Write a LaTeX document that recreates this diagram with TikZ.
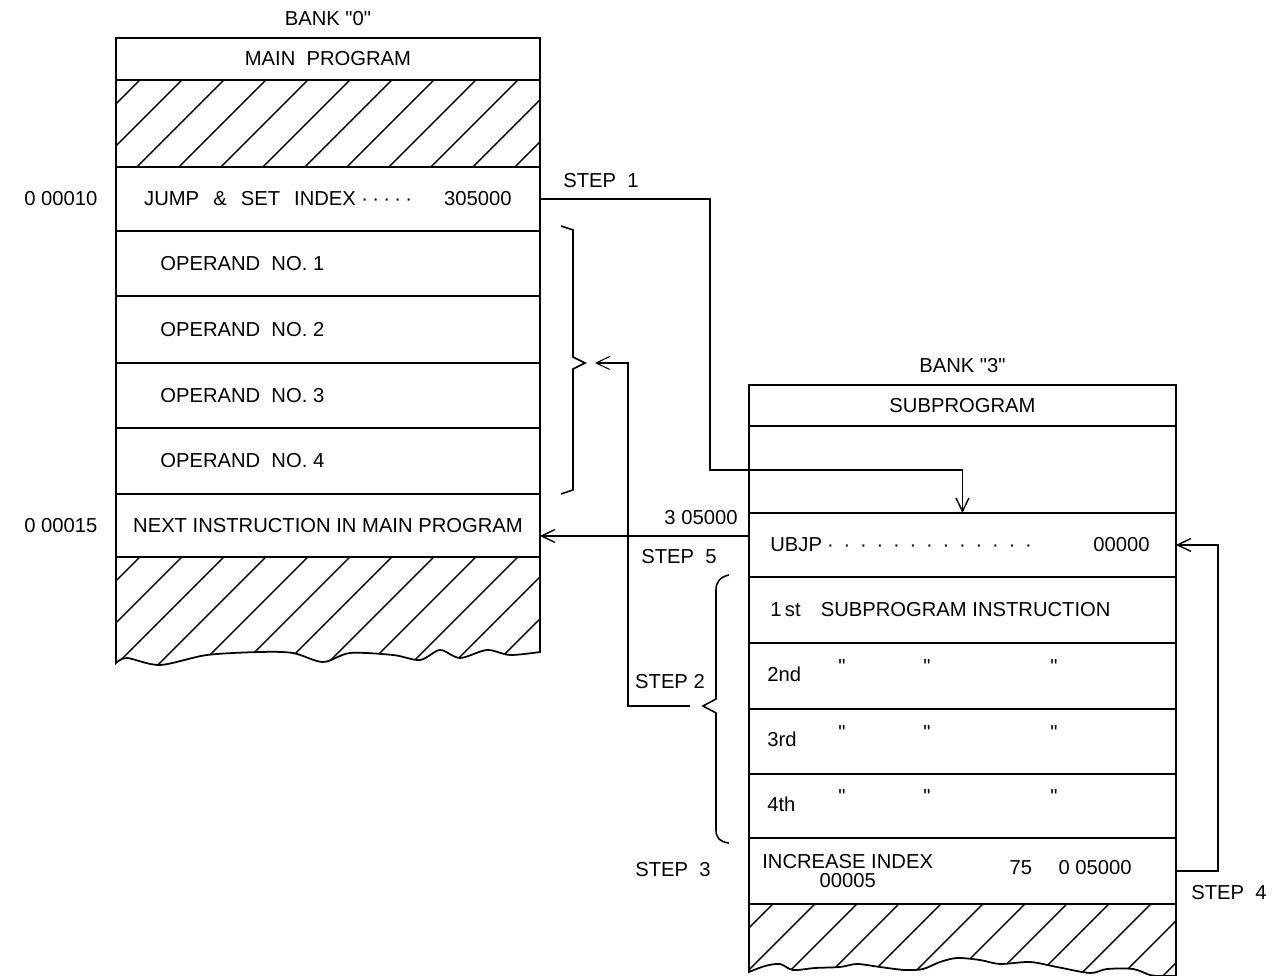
\documentclass[tikz,border=0pt]{standalone}
\usepackage{fontspec}
\setmainfont{Liberation Sans}[Ligatures=TeXOff]
\usetikzlibrary{positioning,arrows.meta}

\newcommand{\dotleader}[2]{\makebox[#1]{\cleaders\hbox to #2{\hss·\hss}\hfill}}

\begin{document}
\begin{tikzpicture}[
  x=0.02cm, y=-0.02cm,
  font=\fontsize{11.5}{13}\selectfont,
  row/.style={draw, line width=1pt, minimum width=8.48cm, inner sep=0pt, outer sep=0pt},
  subrow/.style={row, minimum width=8.54cm},
  txt/.style={inner sep=0pt, anchor=west},
  ditto/.style={inner sep=0pt},
  edge/.style={line width=1pt},
  hatch/.style={line width=0.8pt},
  hatched/.style={path picture={
    \foreach \k in {0,...,13}
      \draw[hatch] ([shift={(24+42*\k,0)}]path picture bounding box.north west) -- ++(-150,150);}},
  link/.style={line width=0.8pt},
  arrow/.style={link, -{Straight Barb[length=2.7mm, width=2.6mm]}},
  brace/.style={line width=0.9pt}
]
\useasboundingbox (0,0) rectangle (1276,976);

% bank 0
\node[row, minimum height=0.84cm, anchor=north west] (main) at (116,38) {MAIN\ \ PROGRAM};
\node[row, hatched, minimum height=1.74cm, below=0pt of main] (top0) {};
\node[row, minimum height=1.28cm, below=0pt of top0] (jump) {JUMP\hspace{8pt}\&\hspace{8pt}SET\hspace{8pt}INDEX\,\dotleader{1.1cm}{0.22cm}\hspace{0.6cm}305000};
\node[row, minimum height=1.30cm, below=0pt of jump] (op1) {};
\node[row, minimum height=1.34cm, below=0pt of op1] (op2) {};
\node[row, minimum height=1.30cm, below=0pt of op2] (op3) {};
\node[row, minimum height=1.32cm, below=0pt of op3] (op4) {};
\node[row, minimum height=1.26cm, below=0pt of op4] (next) {NEXT INSTRUCTION IN MAIN PROGRAM};
\foreach \r/\n in {op1/1,op2/2,op3/3,op4/4}
  \node[txt] (\r t) at ([shift={(44,0)}]\r.west) {OPERAND\ \ NO. \n};
\draw[edge, hatched] (next.south west) -- plot[smooth] coordinates {(116,663) (127,658) (160,665) (207,655) (260,652) (293,653) (323,662) (350,653) (393,655) (420,660) (440,650) (460,658) (487,650) (510,655) (540,652)} -- (next.south east) -- cycle;

\node[above=0.12cm of main] (bank0) {BANK "0"};
\node[left=0.25cm of jump] (addr1) {0 00010};
\node[left=0.25cm of next] (addr2) {0 00015};

% operand brace
\draw[brace] (561,226) -- (573,230) -- (573,357) -- (585,363) -- (573,369) -- (573,490) -- (561,494);
\coordinate (optip) at (585,363);

% bank 3
\node[subrow, minimum height=0.82cm, anchor=north west] (sub) at (749,385) {SUBPROGRAM};
\node[subrow, minimum height=1.74cm, below=0pt of sub] (free3) {};
\node[subrow, minimum height=1.28cm, below=0pt of free3] (ubjp) {};
\node[subrow, minimum height=1.32cm, below=0pt of ubjp] (ins1) {};
\node[subrow, minimum height=1.32cm, below=0pt of ins1] (ins2) {};
\node[subrow, minimum height=1.30cm, below=0pt of ins2] (ins3) {};
\node[subrow, minimum height=1.28cm, below=0pt of ins3] (ins4) {};
\node[subrow, minimum height=1.32cm, below=0pt of ins4] (inc) {};
\draw[edge, hatched] (inc.south west) -- plot[smooth] coordinates {(749,972) (765,966) (780,964) (793,970) (815,968) (840,967) (857,964) (880,967) (905,970) (923,969) (940,962) (957,958) (980,960) (1000,964) (1030,962) (1057,967) (1090,973) (1107,969) (1133,969) (1150,975) (1160,976)} -- (1176,976) -- (inc.south east) -- cycle;

\node[above=0.12cm of sub] (bank3) {BANK "3"};
\node[txt] (ubjpt) at ([shift={(21,0)}]ubjp.west) {UBJP\dotleader{4.3cm}{0.33cm}};
\node[txt, anchor=east] (ubjpa) at ([shift={(-26,0)}]ubjp.east) {00000};
\node[txt] (ins1t) at ([shift={(21,0)}]ins1.west) {1\,st\quad SUBPROGRAM INSTRUCTION};
\foreach \r/\o in {ins2/2nd,ins3/3rd,ins4/4th}{
  \node[txt] (\r t) at ([shift={(18,-2)}]\r.west) {\o};
  \foreach \dx in {93,178,305}
    \node[ditto] (\r d\dx) at ([shift={(\dx,-9)}]\r.west) {"};
}
\node[txt, align=center] (inct) at ([shift={(13,0)}]inc.west) {INCREASE INDEX\\[-2pt]00005};
\node[txt, anchor=east] (incv) at ([shift={(-44,-3)}]inc.east) {75\hspace{15pt}0 05000};

% step 2 brace
\draw[brace] (729,575) .. controls (720,577) and (716,582) .. (716,590) -- (716,699) -- (703,706) -- (716,713) -- (716,830) .. controls (716,838) and (720,842) .. (729,843);
\coordinate (s2tip) at (703,706);

% steps
\coordinate (s1bend) at (710,470);
\draw[arrow] (jump.east) -| (s1bend) -| (ubjp.north);
\coordinate (s2bend) at (628,363);
\draw[arrow, line width=0.6pt] ([shift={(-13,0)}]s2tip) -| (s2bend) -- ([shift={(10,0)}]optip);
\coordinate (s5) at ([shift={(0,23)}]ubjp.north west);
\draw[arrow] (s5) -- (s5 -| next.east);
\draw[arrow] (inc.east) -- ++(42,0) |- (ubjp.east);

\node (step1) at (601,181) {STEP\ \ 1};
\node (step5v) at (701,518) {3 05000};
\node (step5) at (679,557) {STEP\ \ 5};
\node (step2) at (670,682) {STEP 2};
\node (step3) at (673,870) {STEP\ \ 3};
\node (step4) at (1229,893) {STEP\ \ 4};
\end{tikzpicture}
\end{document}
